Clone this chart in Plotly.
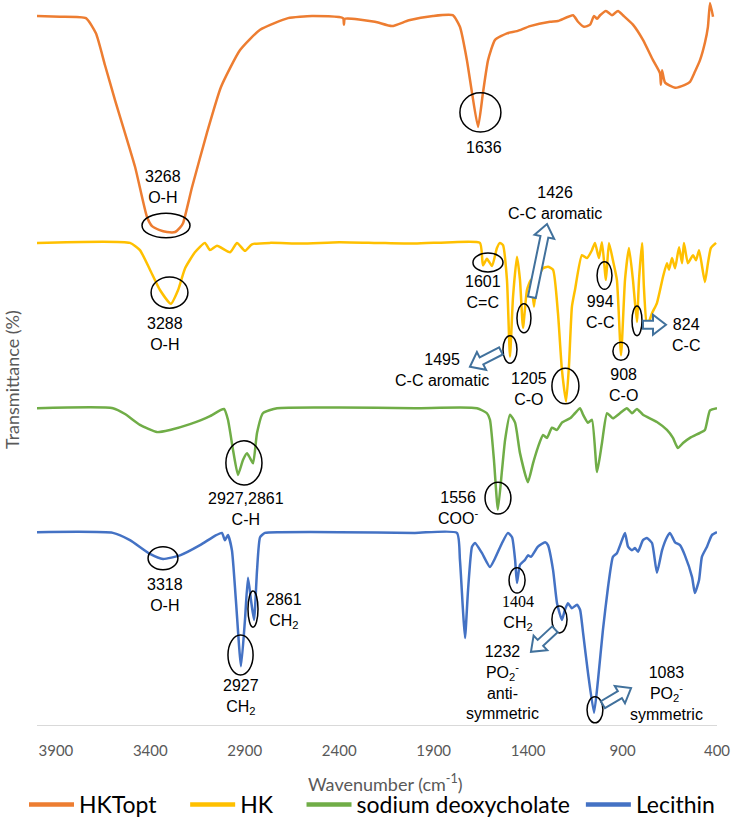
import math
import plotly.graph_objects as go

# ---------------- data (wavenumber cm-1, transmittance, stacked) ----------------
HKTOPT = [(4000,97.8),(3878,97.7),(3741,97.5),(3688,95.4),(3640,91.0),(3587,86.2),(3481,77.0),(3418,70.1),
          (3391,68.8),(3354,68.3),(3312,68.0),(3269,68.0),(3243,68.6),(3227,69.2),(3179,74.2),(3100,81.7),
          (3026,88.0),(2925,93.1),(2819,95.9),(2671,97.5),(2544,97.8),(2380,97.5),(2375,96.6),(2370,97.4),
          (2211,97.0),(2121,96.4),(2031,97.2),(1904,97.8),(1799,97.9),(1761,96.3),(1724,91.7),(1697,87.2),
          (1665,82.5),(1639,87.2),(1612,91.7),(1575,94.5),(1512,95.4),(1459,95.7),(1390,96.4),(1284,97.0),
          (1242,97.1),(1162,97.9),(1136,97.0),(1104,96.3),(1072,96.6),(1051,97.8),(1035,97.4),(1019,97.9),
          (988,98.5),(956,97.9),(924,98.5),(898,97.9),(845,96.6),(792,94.5),(739,91.7),(702,89.9),(697,88.3),
          (691,90.3),(675,88.6),(622,87.9),(570,88.3),(543,88.7),(517,90.1),(490,91.7),(464,94.1),(448,96.3),
          (437,99.6),(421,97.7)]

HK = [(4000,66.5),(3508,66.5),(3455,65.5),(3402,62.8),(3349,60.0),(3291,58.1),(3253,60.0),(3216,63.0),
      (3164,65.2),(3111,66.5),(3084,65.5),(3047,66.1),(2978,65.2),(2941,66.5),(2899,65.4),(2862,66.3),
      (2767,66.5),(2600,66.4),(2400,66.6),(2200,66.5),(2000,66.4),(1800,66.6),(1655,66.5),(1639,63.4),
      (1618,64.3),(1591,63.3),(1565,65.8),(1549,66.5),(1533,66.2),(1512,61.4),(1496,50.8),(1480,59.0),
      (1459,64.6),(1443,61.4),(1427,54.8),(1406,60.0),(1385,61.4),(1369,57.7),(1353,61.4),(1321,63.0),
      (1295,63.2),(1268,62.8),(1242,56.8),(1221,49.0),(1199,44.6),(1184,49.4),(1168,57.7),(1152,60.0),
      (1115,64.8),(1088,64.4),(1062,65.5),(1046,66.5),(1025,64.4),(1009,66.6),(988,61.4),(972,66.5),
      (951,64.1),(930,61.4),(908,51.0),(887,61.4),(866,65.8),(845,61.4),(824,55.6),(813,61.4),(797,66.5),
      (787,60.4),(771,54.9),(744,56.8),(718,58.2),(686,61.8),(665,63.7),(654,62.8),(638,64.4),(622,63.0),
      (601,65.9),(585,63.7),(575,66.5),(554,63.7),(527,64.8),(511,64.1),(495,65.5),(464,61.1),(448,63.7),
      (432,65.8),(405,66.5)]

SODIUM_DEOXYCHOLATE = [(4000,43.7),(3598,43.7),(3534,42.9),(3455,41.4),(3365,40.4),(3296,40.7),(3190,41.5),
      (3084,42.6),(3031,43.4),(3010,43.6),(2989,42.1),(2962,37.9),(2936,34.5),(2909,36.6),(2888,37.5),
      (2872,36.8),(2856,36.1),(2835,40.3),(2804,43.0),(2729,43.7),(2400,43.8),(2000,43.7),(1671,43.7),
      (1618,43.0),(1602,42.1),(1581,36.6),(1560,29.7),(1538,35.2),(1522,39.3),(1496,42.8),(1469,41.7),
      (1443,37.5),(1401,33.5),(1374,36.1),(1348,38.3),(1321,40.0),(1300,39.6),(1274,41.0),(1247,40.7),
      (1221,41.7),(1178,42.3),(1152,43.0),(1125,43.7),(1109,42.8),(1083,41.7),(1062,42.1),(1035,34.9),
      (1009,38.9),(982,43.0),(951,42.3),(914,43.0),(877,43.7),(850,43.0),(824,43.6),(792,42.8),(718,41.8),
      (665,40.7),(633,39.6),(607,38.2),(580,38.9),(543,39.6),(490,40.3),(464,40.7),(437,43.4),(400,43.7)]

LECITHIN = [(4000,26.6),(3598,26.5),(3508,25.5),(3402,23.6),(3333,22.9),(3243,23.4),(3137,24.8),(3058,26.1),
      (3021,26.5),(3005,25.5),(2989,26.2),(2968,24.1),(2947,17.2),(2920,8.1),(2899,14.5),(2883,20.3),
      (2867,17.2),(2851,14.5),(2835,21.4),(2819,25.9),(2793,26.5),(2714,26.6),(2400,26.6),(2000,26.5),
      (1777,26.5),(1761,22.8),(1745,15.9),(1734,12.0),(1718,18.6),(1697,24.6),(1681,25.1),(1644,23.7),
      (1602,21.8),(1575,23.0),(1538,25.1),(1507,26.5),(1485,25.9),(1469,22.8),(1459,19.6),(1443,22.1),
      (1416,22.8),(1401,23.4),(1385,23.2),(1348,24.6),(1310,25.2),(1295,24.8),(1268,21.4),(1247,16.8),
      (1221,14.5),(1205,15.9),(1189,16.8),(1168,16.1),(1141,16.6),(1125,15.9),(1109,12.7),(1083,7.2),
      (1051,1.7),(1030,6.2),(1004,13.1),(977,19.0),(951,23.2),(930,23.7),(903,25.5),(887,26.5),(871,24.6),
      (850,24.1),(834,24.4),(818,23.9),(792,25.5),(771,25.8),(744,25.1),(718,21.0),(691,24.1),(665,25.9),
      (649,26.5),(622,25.2),(596,24.8),(570,23.4),(532,20.4),(517,18.2),(495,20.0),(480,23.2),(453,24.6),
      (427,26.2),(400,26.6)]

SERIES_NAMES = ["HKTopt", "HK", "sodium deoxycholate", "Lecithin"]
TICK_VALUES = [3900, 3400, 2900, 2400, 1900, 1400, 900, 400]

# peak labels: (text, wavenumber, level)
PEAK_LABELS = [
    ("1636", 1634, 79.6),
    ("3268<br>O-H", 3333, 74.2),
    ("3288<br>O-H", 3322, 54.0),
    ("1601<br>C=C", 1639, 59.7),
    ("1426<br>C-C aromatic", 1258, 72.0),
    ("1495<br>C-C aromatic", 1856, 49.0),
    ("1205<br>C-O", 1395, 46.3),
    ("994<br>C-C", 1019, 57.0),
    ("908<br>C-O", 893, 46.9),
    ("824<br>C-C", 564, 53.8),
    ("2927,2861<br>C-H", 2894, 29.8),
    ("1556<br>COO<sup>-</sup>", 1771, 29.9),
    ("3318<br>O-H", 3322, 17.9),
    ("2861<br>CH<sub>2</sub>", 2692, 15.7),
    ("2927<br>CH<sub>2</sub>", 2920, 3.8),
    ("<span style='font-family:Liberation Serif'>1404</span><br>CH<sub>2</sub>", 1454, 15.4),
    ("1232<br>PO<sub>2</sub><sup>-</sup><br>anti-<br>symmetric", 1533, 5.8),
    ("1083<br>PO<sub>2</sub><sup>-</sup><br>symmetric", 670, 4.4),
]

# ellipses marking peaks: (wn_left, wn_right, level_low, level_high)
PEAK_RINGS = [
    (1761,1544,81.8,87.2),(3444,3190,67.2,70.6),(3396,3201,57.5,61.8),(1692,1533,62.5,65.1),
    (1459,1385,54.1,58.1),(1533,1459,49.9,53.7),(1274,1131,44.3,49.2),(1035,956,60.1,63.9),
    (951,866,50.3,52.8),(850,797,53.7,57.8),(3000,2809,33.1,39.2),(1628,1491,29.1,33.5),
    (3412,3254,21.4,24.6),(2883,2830,13.5,18.5),(2989,2856,6.9,12.4),(1501,1416,18.2,21.7),
    (1274,1194,12.7,16.4),(1088,1004,0.3,3.9),
]

# block arrows: (tail wn, tail level, tip wn, tip level)
POINTER_ARROWS = [
    (1380,59.0,1300,69.1),
    (1544,51.6,1708,49.4),
    (792,55.2,670,55.2),
    (1258,13.2,1385,10.1),
    (1004,2.8,855,5.1),
]

COLORS = ["#ED7D31", "#FFC000", "#70AD47", "#4472C4"]
NBSP = "&nbsp;"
LEGEND_PAD = [4, 4, 1, 0]

# ---------------- layout geometry ----------------
W, H = 750, 827
ML, MR, MT, MB = 37, 33, 0, 102
XR = [4000, 400]
YR = [0, 100]
PW, PH = W - ML - MR, H - MT - MB


def to_px(wn, lv):
    return (XR[0] - wn) * PW / (XR[0] - XR[1]), (YR[1] - lv) * PH / (YR[1] - YR[0])


def to_data(X, Y):
    return XR[0] - X * (XR[0] - XR[1]) / PW, YR[1] - Y * (YR[1] - YR[0]) / PH


def block_arrow_path(tw, tl, hw_, hl, shaft=8, head_w=20, head_len=13):
    x0, y0 = to_px(tw, tl)
    x1, y1 = to_px(hw_, hl)
    dx, dy = x1 - x0, y1 - y0
    L = math.hypot(dx, dy)
    ux, uy = dx / L, dy / L
    nx, ny = -uy, ux
    b = L - head_len
    pts = [
        (x0 + nx * shaft / 2, y0 + ny * shaft / 2),
        (x0 + ux * b + nx * shaft / 2, y0 + uy * b + ny * shaft / 2),
        (x0 + ux * b + nx * head_w / 2, y0 + uy * b + ny * head_w / 2),
        (x1, y1),
        (x0 + ux * b - nx * head_w / 2, y0 + uy * b - ny * head_w / 2),
        (x0 + ux * b - nx * shaft / 2, y0 + uy * b - ny * shaft / 2),
        (x0 - nx * shaft / 2, y0 - ny * shaft / 2),
    ]
    d = []
    for i, (X, Y) in enumerate(pts):
        a, c = to_data(X, Y)
        d.append(("M" if i == 0 else "L") + f"{a:.2f},{c:.3f}")
    return " ".join(d) + " Z"


fig = go.Figure()
for name, data, col in zip(SERIES_NAMES, [HKTOPT, HK, SODIUM_DEOXYCHOLATE, LECITHIN], COLORS):
    wn = [p[0] for p in data]
    tv = [p[1] for p in data]
    fig.add_trace(go.Scatter(x=wn, y=tv, mode="lines", name=name, legendgroup=name, showlegend=False,
                             line=dict(color=col, width=2.5, shape="spline", smoothing=0.5),
                             hoverinfo="x+name"))
for name, col, pad in zip(SERIES_NAMES, COLORS, LEGEND_PAD):
    fig.add_trace(go.Scatter(x=[None], y=[None], mode="lines", name=name + NBSP * pad, legendgroup=name,
                             line=dict(color=col, width=4.5)))

shapes = []
for (a, b, c, d) in PEAK_RINGS:
    shapes.append(dict(type="circle", xref="x", yref="y", x0=a, x1=b, y0=c, y1=d,
                       line=dict(color="black", width=1.5)))
for arr in POINTER_ARROWS:
    shapes.append(dict(type="path", xref="x", yref="y", path=block_arrow_path(*arr),
                       line=dict(color="#41719C", width=2), fillcolor="white"))

annotations = []
for text, wn, lv in PEAK_LABELS:
    annotations.append(dict(x=wn, y=lv, xref="x", yref="y", text=text, showarrow=False,
                            xanchor="center", yanchor="middle",
                            font=dict(family="Arial", size=16, color="#000000")))
# axis titles
annotations.append(dict(x=(386 - ML) / PW, y=(H - MB - 783) / PH, xref="paper", yref="paper",
                        text="Wavenumber (cm<sup>-1</sup>)", showarrow=False,
                        xanchor="center", yanchor="middle",
                        font=dict(family="Lato", size=18, color="#595959")))
annotations.append(dict(x=(12 - ML) / PW, y=(H - MB - 380) / PH, xref="paper", yref="paper",
                        text="Transmittance (%)", textangle=-90, showarrow=False,
                        xanchor="center", yanchor="middle",
                        font=dict(family="Lato", size=18, color="#595959")))

fig.update_layout(
    width=W, height=H,
    margin=dict(l=ML, r=MR, t=MT, b=MB, pad=0),
    paper_bgcolor="white", plot_bgcolor="white",
    showlegend=True,
    legend=dict(orientation="h", x=(24 - ML) / PW, xanchor="left",
                y=(H - MB - 826) / PH, yanchor="bottom",
                font=dict(family="Lato", size=23, color="black"), itemwidth=45,
                bgcolor="rgba(0,0,0,0)"),
    xaxis=dict(range=XR, tickvals=TICK_VALUES, ticktext=[str(v) for v in TICK_VALUES],
               showgrid=False, zeroline=False, showline=True, linecolor="#D9D9D9", linewidth=1,
               ticks="", ticklabelstandoff=12,
               tickfont=dict(family="Lato", size=15, color="#595959")),
    yaxis=dict(range=YR, showgrid=False, zeroline=False, showline=False, showticklabels=False, ticks=""),
    shapes=shapes,
    annotations=annotations,
)

fig.write_html("out.html", config={"displayModeBar": False},
               post_script="document.body.style.margin='0';")
